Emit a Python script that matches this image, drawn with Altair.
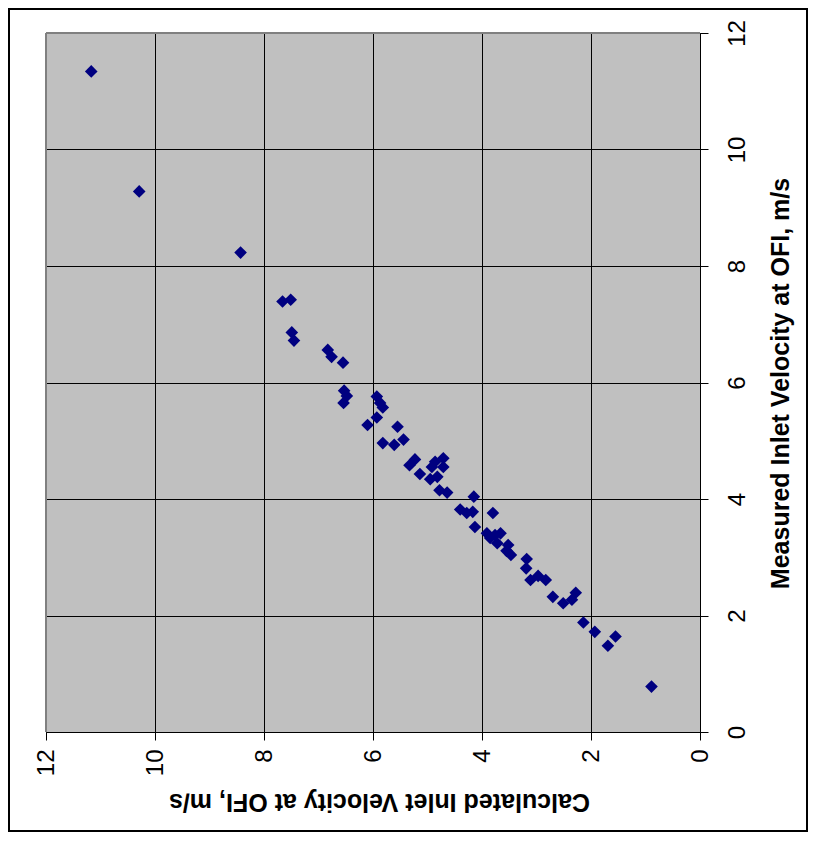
import altair as alt
import pandas as pd

# Calculated Inlet Velocity at OFI, m/s (horizontal axis in the rotated layout)
calculated = [11.17, 10.29, 8.43, 7.66, 7.51, 7.49, 7.45, 6.83, 6.76, 6.55,
              6.53, 6.48, 6.54, 5.93, 5.87, 5.82, 5.93, 6.10, 5.55, 5.44,
              5.82, 5.61, 5.33, 5.23, 5.14, 4.92, 4.86, 4.71, 4.71, 4.95,
              4.82, 4.78, 4.64, 4.40, 4.28, 4.15, 4.17, 4.13, 3.80, 3.91,
              3.76, 3.66, 3.85, 3.72, 3.52, 3.47, 3.55, 3.18, 3.19, 3.11,
              2.97, 2.83, 2.70, 2.51, 2.35, 2.28, 2.14, 1.93, 1.55, 1.69,
              0.89]
# Measured Inlet Velocity at OFI, m/s (vertical axis in the rotated layout)
measured = [11.34, 9.28, 8.23, 7.39, 7.42, 6.86, 6.72, 6.56, 6.44, 6.34,
            5.86, 5.77, 5.65, 5.76, 5.65, 5.57, 5.40, 5.27, 5.24, 5.02,
            4.96, 4.93, 4.58, 4.68, 4.43, 4.55, 4.64, 4.70, 4.55, 4.34,
            4.38, 4.15, 4.11, 3.82, 3.76, 4.04, 3.78, 3.52, 3.76, 3.41,
            3.38, 3.41, 3.33, 3.24, 3.21, 3.04, 3.11, 2.97, 2.81, 2.61,
            2.68, 2.61, 2.32, 2.21, 2.27, 2.39, 1.88, 1.72, 1.64, 1.48,
            0.78]

tick_values = [0, 2, 4, 6, 8, 10, 12]
x_title = "Calculated Inlet Velocity at OFI, m/s"
y_title = "Measured Inlet Velocity at OFI, m/s"

df = pd.DataFrame({"calc": calculated, "meas": measured})
one = pd.DataFrame({"a": [0]})

W, H = 654, 699
FONT = "Liberation Sans"

points = alt.Chart(df).mark_point(
    shape="diamond", filled=True, color="#000080", size=160, opacity=1
).encode(
    x=alt.X(
        "calc:Q",
        scale=alt.Scale(domain=[0, 12], reverse=True, nice=False, zero=False),
        axis=alt.Axis(
            orient="bottom", values=tick_values, title=x_title,
            labelAngle=270, labelAlign="right", labelBaseline="middle",
            labelPadding=9, tickSize=8, labelFontSize=24, labelFont=FONT,
            labelColor="black", tickColor="black", domainColor="black",
            gridColor="black", gridWidth=1, grid=True,
            titleAngle=180, titleFont=FONT, titleFontSize=25, titleFontWeight="bold",
            titleColor="black", titleBaseline="alphabetic", titleAlign="center",
            titleX=333, titleY=61,
        ),
    ),
    y=alt.Y(
        "meas:Q",
        scale=alt.Scale(domain=[0, 12], nice=False, zero=False),
        axis=alt.Axis(
            orient="right", values=tick_values, title=y_title,
            labelAngle=270, labelAlign="center", labelBaseline="top",
            labelPadding=17, tickSize=8, labelFontSize=24, labelFont=FONT,
            labelColor="black", tickColor="black", domainColor="black",
            gridColor="black", gridWidth=1, grid=True,
            titleAngle=270, titleFont=FONT, titleFontSize=25, titleFontWeight="bold",
            titleColor="black", titleBaseline="alphabetic", titleAlign="center",
            titleX=88, titleY=350,
        ),
    ),
)

top_edge = alt.Chart(one).mark_rule(color="#808080", strokeWidth=2).encode(
    x=alt.value(0), x2=alt.value(W), y=alt.value(0)
)
left_edge = alt.Chart(one).mark_rule(color="#808080", strokeWidth=2).encode(
    x=alt.value(0), y=alt.value(0), y2=alt.value(H)
)

frame = alt.Chart(one).mark_rect(
    fill=None, fillOpacity=0, stroke="black", strokeWidth=2
).encode(
    x=alt.value(-37), x2=alt.value(W + 107), y=alt.value(-24), y2=alt.value(H + 99)
)

chart = alt.layer(top_edge, left_edge, points, frame).properties(
    width=W, height=H,
    padding={"left": 38, "top": 25, "right": 110, "bottom": 104},
    autosize=alt.AutoSizeParams(type="none"),
    background="white",
).configure_view(
    fill="#C0C0C0", stroke=None
)

chart.save("out.html", embed_options={"renderer": "svg", "actions": False})
